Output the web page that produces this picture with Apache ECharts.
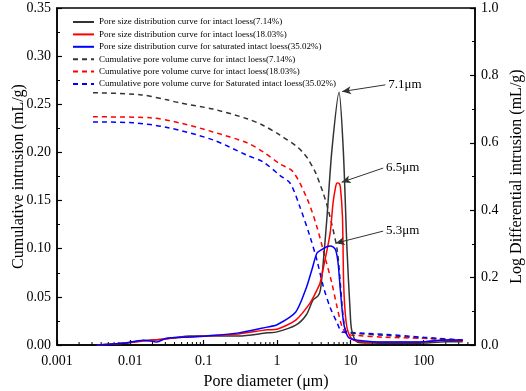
<!DOCTYPE html>
<html>
<head>
<meta charset="utf-8">
<script src="https://cdn.jsdelivr.net/npm/echarts@6/dist/echarts.min.js"></script>
<style>
  html, body { margin: 0; padding: 0; background: #fff; }
  #chart { width: 526px; height: 391px; }
</style>
</head>
<body>
<div id="chart"></div>
<script>
// x tick labels of the log axis (one per decade)
const xTickLabels = ['0.001', '0.01', '0.1', '1', '10', '100']
const minorMultipliers = [2, 3, 4, 5, 6, 7, 8, 9]

const legendNames = [
  'Pore size distribution curve for intact loess(7.14%)',
  'Pore size distribution curve for intact loess(18.03%)',
  'Pore size distribution curve for saturated intact loess(35.02%)',
  'Cumulative pore volume curve for intact loess(7.14%)',
  'Cumulative pore volume curve for intact loess(18.03%)',
  'Cumulative pore volume curve for Saturated intact loess(35.02%)'
]

// pore size distribution (right axis, mL/g)
const psd714D = [0.0035, 0.008, 0.015, 0.025, 0.04, 0.065, 0.11, 0.3, 0.73, 1.0, 1.8, 2.5, 3.1, 3.6, 3.9, 4.26, 4.8, 5.6, 7.0, 8.0, 9.0, 9.9, 10.4, 12.4, 20, 50, 100, 200, 340]
const psd714V = [0.0, 0.005, 0.013, 0.016, 0.022, 0.027, 0.027, 0.027, 0.036, 0.039, 0.059, 0.089, 0.134, 0.145, 0.163, 0.243, 0.38, 0.579, 0.75, 0.579, 0.282, 0.104, 0.045, 0.009, 0.006, 0.005, 0.006, 0.01, 0.01]

const psd1803D = [0.0035, 0.008, 0.015, 0.025, 0.04, 0.065, 0.11, 0.3, 0.73, 1.0, 1.8, 2.83, 3.5, 3.86, 4.5, 5.3, 5.8, 6.3, 6.6, 7.0, 7.3, 7.8, 8.1, 8.6, 9.3, 11, 20, 50, 100, 200, 340]
const psd1803V = [0.0, 0.005, 0.012, 0.016, 0.021, 0.024, 0.027, 0.033, 0.045, 0.047, 0.074, 0.125, 0.163, 0.184, 0.252, 0.332, 0.421, 0.47, 0.481, 0.48, 0.469, 0.38, 0.18, 0.083, 0.039, 0.015, 0.008, 0.008, 0.009, 0.015, 0.012]

const psd3502D = [0.0035, 0.008, 0.015, 0.023, 0.031, 0.065, 0.11, 0.3, 0.73, 1.0, 1.8, 2.5, 3.0, 3.5, 4.0, 4.6, 5.3, 5.8, 6.3, 6.8, 7.3, 8.1, 9.3, 11, 20, 50, 100, 200, 340]
const psd3502V = [0.0, 0.005, 0.014, 0.009, 0.02, 0.024, 0.027, 0.036, 0.053, 0.06, 0.098, 0.169, 0.225, 0.273, 0.282, 0.29, 0.294, 0.291, 0.282, 0.243, 0.163, 0.065, 0.024, 0.016, 0.01, 0.009, 0.01, 0.015, 0.015]

// cumulative intrusion (left axis, mL/g)
const cum714D = [0.0031, 0.0135, 0.0316, 0.0476, 0.134, 0.39, 0.65, 1.1, 1.87, 2.25, 2.6, 3.3, 3.9, 4.3, 4.8, 5.6, 6.6, 7.3, 8.0, 8.9, 12, 30, 100, 340]
const cum714V = [0.262, 0.26, 0.2546, 0.2514, 0.245, 0.235, 0.228, 0.218, 0.206, 0.2, 0.194, 0.18, 0.166, 0.157, 0.145, 0.125, 0.099, 0.064, 0.029, 0.0135, 0.012, 0.01, 0.007, 0.005]

const cum1803D = [0.0031, 0.0186, 0.0476, 0.134, 0.39, 0.65, 1.1, 1.65, 2.6, 3.5, 4.5, 5.6, 6.6, 7.7, 8.9, 12, 30, 100, 340]
const cum1803V = [0.237, 0.236, 0.2306, 0.2213, 0.21, 0.2005, 0.188, 0.18, 0.151, 0.1226, 0.0914, 0.064, 0.039, 0.019, 0.0115, 0.01, 0.008, 0.007, 0.005]

const cum3502D = [0.0031, 0.011, 0.0316, 0.134, 0.39, 0.65, 1.1, 1.51, 2.06, 2.83, 3.5, 4.3, 5.3, 6.6, 7.7, 10, 30, 100, 340]
const cum3502V = [0.2317, 0.2307, 0.226, 0.213, 0.197, 0.19, 0.176, 0.168, 0.143, 0.112, 0.088, 0.06, 0.039, 0.023, 0.0135, 0.013, 0.011, 0.008, 0.005]

// peak annotations: label, text anchor (d, v), arrow tip (d, v)
const peakLabels = ['7.1μm', '6.5μm', '5.3μm']
const peakTextAt = [[30, 0.772], [28, 0.525], [28, 0.338]]
const peakTipAt = [[7.7, 0.752], [7.6, 0.483], [6.3, 0.302]]

const font = 'Liberation Serif, Times New Roman, serif'
const pair = (xs, ys) => xs.map((x, i) => [x, ys[i]])

const minorTicks = []
for (let e = -3; e <= 2; e++) {
  minorMultipliers.forEach(m => {
    const v = m * Math.pow(10, e)
    if (v < 500) minorTicks.push([v, 0])
  })
}

const arrow = i => ({
  silent: true,
  symbol: ['none', 'arrow'],
  symbolSize: [6, 9],
  lineStyle: { color: '#333', width: 1, type: 'solid' },
  label: {
    show: true,
    position: 'start',
    formatter: peakLabels[i],
    color: '#000',
    fontFamily: font,
    fontSize: 13,
    distance: 3
  },
  data: [[{ coord: peakTextAt[i] }, { coord: peakTipAt[i] }]]
})

const solid = (name, color, data, idx) => ({
  name,
  type: 'line',
  xAxisIndex: 0,
  yAxisIndex: 1,
  data,
  symbol: 'none',
  smooth: 0.25,
  lineStyle: { color, width: 1.5 },
  itemStyle: { color },
  markLine: arrow(idx)
})

const dashed = (name, color, data) => ({
  name,
  type: 'line',
  xAxisIndex: 0,
  yAxisIndex: 0,
  data,
  symbol: 'none',
  smooth: 0.3,
  lineStyle: { color, width: 1.5, type: [5, 4] },
  itemStyle: { color }
})

const chart = echarts.init(document.getElementById('chart'))
chart.setOption({
  animation: false,
  textStyle: { fontFamily: font },
  grid: {
    left: 57, right: 51, top: 8, bottom: 46,
    outerBoundsMode: 'none',
    containLabel: false,
    show: true, borderColor: '#000', borderWidth: 1.5
  },
  legend: {
    data: legendNames,
    orient: 'vertical',
    left: 67,
    top: 11.5,
    itemWidth: 21,
    itemHeight: 8,
    itemGap: 1.4,
    itemStyle: { opacity: 0, borderWidth: 0 },
    textStyle: { fontFamily: font, fontSize: 9, lineHeight: 11, color: '#000' }
  },
  xAxis: {
    type: 'log',
    min: 0.001,
    max: 500,
    name: 'Pore diameter (μm)',
    nameLocation: 'middle',
    nameGap: 29,
    nameMoveOverlap: false,
    nameTextStyle: { fontFamily: font, fontSize: 16, color: '#000' },
    axisLine: { lineStyle: { color: '#000', width: 1.5 } },
    axisTick: { inside: true, length: 5, lineStyle: { color: '#000', width: 1.2 } },
    splitLine: { show: false },
    axisLabel: {
      color: '#000', fontSize: 14, fontFamily: font, margin: 9,
      showMaxLabel: false,
      formatter: v => {
        const e = Math.round(Math.log10(v))
        return Math.abs(Math.log10(v) - e) < 1e-6 ? xTickLabels[e + 3] || '' : ''
      }
    }
  },
  yAxis: [
    {
      type: 'value',
      min: 0,
      max: 0.35,
      interval: 0.05,
      name: 'Cumulative intrusion (mL/g)',
      nameLocation: 'middle',
      nameGap: 30,
      nameMoveOverlap: false,
      nameTextStyle: { fontFamily: font, fontSize: 16, color: '#000' },
      axisLine: { show: true, lineStyle: { color: '#000', width: 1.5 } },
      axisTick: { inside: true, length: 5, lineStyle: { color: '#000', width: 1.2 } },
      minorTick: { show: true, splitNumber: 2, length: 3, lineStyle: { color: '#000', width: 1 } },
      splitLine: { show: false },
      axisLabel: { color: '#000', fontSize: 14, fontFamily: font, margin: 6, formatter: v => v.toFixed(2) }
    },
    {
      type: 'value',
      min: 0,
      max: 1.0,
      interval: 0.2,
      position: 'right',
      name: 'Log Differential intrusion (mL/g)',
      nameLocation: 'middle',
      nameGap: 34,
      nameRotate: 90,
      nameMoveOverlap: false,
      nameTextStyle: { fontFamily: font, fontSize: 16, color: '#000' },
      axisLine: { show: true, lineStyle: { color: '#000', width: 1.5 } },
      axisTick: { inside: true, length: 5, lineStyle: { color: '#000', width: 1.2 } },
      minorTick: { show: true, splitNumber: 2, length: 3, lineStyle: { color: '#000', width: 1 } },
      splitLine: { show: false },
      axisLabel: { color: '#000', fontSize: 14, fontFamily: font, margin: 6, formatter: v => v.toFixed(1) }
    }
  ],
  series: [
    dashed(legendNames[3], '#333333', pair(cum714D, cum714V)),
    dashed(legendNames[4], '#ff0000', pair(cum1803D, cum1803V)),
    dashed(legendNames[5], '#0000ff', pair(cum3502D, cum3502V)),
    solid(legendNames[0], '#333333', pair(psd714D, psd714V), 0),
    solid(legendNames[1], '#ff0000', pair(psd1803D, psd1803V), 1),
    solid(legendNames[2], '#0000ff', pair(psd3502D, psd3502V), 2),
    {
      // log-axis minor ticks
      type: 'custom',
      xAxisIndex: 0,
      yAxisIndex: 0,
      silent: true,
      data: minorTicks,
      renderItem: (params, api) => {
        const p = api.coord([api.value(0), 0])
        return {
          type: 'line',
          shape: { x1: p[0], y1: p[1], x2: p[0], y2: p[1] - 3 },
          style: { stroke: '#000', lineWidth: 1 }
        }
      }
    }
  ]
})
</script>
</body>
</html>
